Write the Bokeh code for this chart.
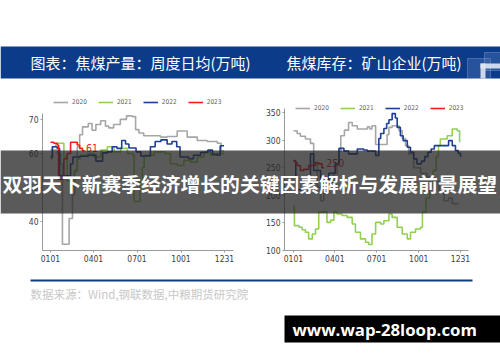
from bokeh.plotting import figure
from bokeh.models import (Range1d, FixedTicker, Legend, LegendItem, Label,
                          BoxAnnotation)
from bokeh.layouts import row, column
from bokeh.embed import file_html
from bokeh.resources import INLINE

# ---------------- data ----------------
x_ticks = [1, 91, 182, 274, 365]
x_tick_labels = ["0101", "0401", "0701", "1001", "1231"]
years = ["2020", "2021", "2022", "2023"]

prod_ticks = [40, 50, 60, 70]
inv_ticks = [100, 150, 200, 250, 300, 350]

# coking coal output, weekly daily average (10k t)
prod_2020_day = [1, 15, 22, 26, 40, 47, 52, 57, 62, 68, 80, 88, 96, 106, 116, 123, 133, 147, 160, 172, 179, 186, 196, 231, 245, 266, 287, 308, 329, 350, 358, 364]
prod_2020_val = [61, 60, 57, 33.5, 41, 48, 55, 62, 65.5, 67.8, 68.8, 66.8, 68.5, 69.6, 68, 67.5, 68.5, 70, 71, 70.8, 67, 66, 65.2, 64.8, 65, 66.6, 64.8, 63.8, 63.5, 63, 60.8, 60.8]
prod_2021_day = [1, 5, 12, 29, 36, 43, 50, 57, 64, 78, 92, 106, 120, 134, 148, 162, 174, 176, 188, 193, 197, 218, 240, 252, 266, 280, 294, 308, 322, 336, 350, 364]
prod_2021_val = [58.5, 62, 63, 59, 52, 50.5, 55, 58.5, 59.5, 60, 59, 61, 62, 60.5, 61.5, 60, 59.5, 46, 52, 56, 59.5, 60.5, 60, 57, 56.5, 58, 57.5, 59, 60.5, 59.5, 60, 60]
prod_2022_day = [1, 5, 15, 20, 43, 48, 62, 80, 96, 110, 120, 130, 140, 150, 158, 165, 180, 190, 210, 220, 232, 245, 255, 265, 272, 290, 300, 315, 330, 340, 350, 356, 364]
prod_2022_val = [59, 62, 61.5, 53.5, 57, 59, 59.2, 59.5, 57.8, 60.2, 60.5, 62, 61.5, 63.8, 62.8, 61.6, 60.5, 59.3, 62, 63.5, 64, 62.8, 63.5, 62, 59, 58.5, 59.5, 60.3, 61, 59.8, 59.5, 62.3, 62.3]
prod_2023_day = [1, 8, 15, 18, 29, 36, 43, 57, 62, 68, 71]
prod_2023_val = [63.3, 63, 62.5, 52.5, 58.5, 60, 63.3, 62.5, 61.5, 60.8, 61]

# coking coal inventory, mines (10k t)
inv_2020_day = [1, 9, 16, 27, 38, 45, 53, 60, 67, 78, 89, 96, 100, 104, 112, 121, 129, 140, 162, 167, 172, 180, 205, 209, 216, 231, 238, 245, 252, 263, 278, 292, 307, 318, 329, 339, 347, 361]
inv_2020_val = [317, 312, 307, 302, 294, 260, 215, 190, 205, 222, 240, 255, 280, 308, 318, 332, 326, 320, 324, 320, 326, 292, 310, 323, 326, 317, 303, 290, 275, 250, 240, 233, 225, 205, 190, 195, 185, 185]
inv_2021_day = [1, 3, 13, 20, 27, 34, 42, 49, 56, 67, 74, 82, 89, 96, 107, 118, 129, 136, 147, 158, 165, 172, 180, 191, 198, 209, 216, 227, 238, 249, 256, 267, 278, 282, 290, 298, 305, 312, 317, 321, 336, 347, 358, 363]
inv_2021_val = [180, 145, 142, 137.5, 133, 121, 130, 139, 169.5, 170, 151, 155, 169.5, 166, 163.4, 160, 148, 133, 121, 115, 111, 130, 151, 148, 154, 166, 160, 142, 130, 121, 133, 139, 142, 170, 195, 215, 245, 270, 290, 302, 308, 320, 317, 296]
inv_2022_day = [1, 6, 38, 45, 60, 78, 92, 100, 111, 121, 140, 154, 162, 180, 187, 191, 198, 204, 209, 216, 223, 227, 234, 240, 249, 256, 263, 270, 280, 287, 294, 301, 308, 321, 339, 347, 354, 360, 365]
inv_2022_val = [262, 210, 275, 245, 225, 240, 257, 285, 280, 275, 284, 282, 280, 272, 303, 312, 321, 330, 337, 348, 340, 323, 308, 299, 287, 278, 266, 257, 262, 270, 278, 284, 290, 290, 299, 290, 281, 276, 270]
inv_2023_day = [1, 5, 9, 16, 23, 34, 42, 49, 56, 63, 68]
inv_2023_val = [263, 259, 254, 245, 247, 254, 254, 259, 257, 250, 250]

title_left = "图表：焦煤产量：周度日均(万吨)"
title_right = "焦煤库存：矿山企业(万吨)"
banner_text = "双羽天下新赛季经济增长的关键因素解析与发展前景展望"
source_text = "数据来源：Wind,钢联数据,中粮期货研究院"
watermark_text = "www.wap-28loop.com"

# ---------------- styles ----------------
COLORS = ["#a6a6a6", "#92d050", "#1c3f94", "#ff1a1a"]
NAVY = "#0c3b8a"
CJK = "Noto Sans CJK SC"
NARROW = "DejaVu Sans Condensed, Liberation Sans, sans-serif"
W, H = 250, 362


def make_chart(x0, x1, y0, y1, ybound, ticks, borders, series, legend_pos, end_label):
    bl, br, bt, bb = borders
    p = figure(width=W, height=H, x_range=Range1d(x0, x1), y_range=Range1d(y0, y1),
               output_backend="svg", toolbar_location=None,
               min_border_left=bl, min_border_right=br, min_border_top=bt,
               min_border_bottom=bb)
    p.outline_line_color = None
    p.grid.visible = False
    p.background_fill_color = "white"
    p.border_fill_color = "white"
    for ax in (p.xaxis[0], p.yaxis[0]):
        ax.axis_line_color = "#9a9a9a"
        ax.major_tick_line_color = "#9a9a9a"
        ax.major_tick_in = 0
        ax.major_tick_out = 2
        ax.minor_tick_line_color = None
        ax.major_label_text_font = NARROW
        ax.major_label_text_font_size = "8.5px"
        ax.major_label_text_color = "#404040"
        ax.major_label_standoff = 2
    p.xaxis.ticker = FixedTicker(ticks=x_ticks)
    p.xaxis.major_label_overrides = {t: l for t, l in zip(x_ticks, x_tick_labels)}
    p.yaxis.ticker = FixedTicker(ticks=ticks)
    p.yaxis.bounds = (y0, ybound)

    items = []
    for (d, v), c, yr in zip(series, COLORS, years):
        r = p.step(d, v, mode="after", line_color=c, line_width=1.6)
        items.append(LegendItem(label=yr, renderers=[r]))
    legend = Legend(items=items, orientation="horizontal", location=legend_pos,
                    glyph_width=15, glyph_height=8, label_standoff=4, spacing=11,
                    padding=0, margin=0, border_line_alpha=0, background_fill_alpha=0,
                    label_text_font=NARROW, label_text_font_size="6.5px",
                    label_text_color="#606060", label_height=8, label_width=14)
    p.add_layout(legend)

    # end value label of latest year
    d23, v23 = series[3]
    txt, col, yoff = end_label
    p.add_layout(Label(x=d23[-1], y=v23[-1], text=txt, x_offset=2, y_offset=yoff,
                       text_baseline="middle", text_color=col, text_font=NARROW,
                       text_font_size="10.5px"))
    return p


# left: frame spans page y 88..250 (axis line drawn up to 71.67)
pl = make_chart(
    -15.7, 383.8, 31.67, 76.67, 71.67, prod_ticks, (42, 17, 88, 112),
    [(prod_2020_day, prod_2020_val), (prod_2021_day, prod_2021_val),
     (prod_2022_day, prod_2022_val), (prod_2023_day, prod_2023_val)],
    (11, 144), (str(round(prod_2023_val[-1])), "#ff1a1a", 2))

# right: frame spans page y 96..250 (axis line drawn up to 357.8)
pr = make_chart(
    -18.6, 382.4, 100, 379.0, 357.8, inv_ticks, (34, 32, 96, 112),
    [(inv_2020_day, inv_2020_val), (inv_2021_day, inv_2021_val),
     (inv_2022_day, inv_2022_val), (inv_2023_day, inv_2023_val)],
    (11, 138), (str(round(inv_2023_val[-1])), "#e02020", 5))

# ---------------- page decoration overlay (page pixel space) ----------------
ov = figure(width=500, height=362, x_range=Range1d(0, 500), y_range=Range1d(362, 0),
            output_backend="svg", toolbar_location=None,
            x_axis_type=None, y_axis_type=None,
            min_border=0, margin=(-362, 0, 0, 0))
ov.outline_line_color = None
ov.grid.visible = False
ov.background_fill_alpha = 0
ov.border_fill_alpha = 0


def box(l, r_, t, b, color, alpha=1.0, line=None):
    ov.add_layout(BoxAnnotation(left=l, right=r_, top=t, bottom=b,
                                fill_color=color, fill_alpha=alpha,
                                line_color=line, line_width=1))


def label(px, py, text, **kw):
    ov.add_layout(Label(x=px, y=py, text=text, text_baseline="middle", **kw))


# title bar
box(0, 500, 46, 78, NAVY)
label(30, 62, title_left, text_color="white", text_font=CJK, text_font_size="15px")
label(286, 62, title_right, text_color="white", text_font=CJK, text_font_size="15px")
# logo
box(467, 490, 58, 78, "#5d7fbd", 0.35, "#b9c9e6")
box(484, 500, 52, 70, "#5d7fbd", 0.35, "#b9c9e6")
box(480, 500, 63, 68, "#dfe7f4", 0.9)
box(480, 485, 63, 78, "#dfe7f4", 0.9)
# banner
box(0, 500, 150, 213, "#262626", 0.76)
label(2, 183, banner_text, text_color="white", text_font=CJK,
      text_font_style="bold", text_font_size="19.8px")
# footer
box(30, 472, 279, 281, NAVY)
label(30, 293, source_text, text_color="#c8c8c8", text_font=CJK, text_font_size="11.5px")
# watermark
box(284, 500, 315, 342, "black")
label(292, 329, watermark_text, text_color="white", text_font="Open Sans",
      text_font_style="bold", text_font_size="16.8px")

layout = column(row(pl, pr), ov)
open("out.html", "w").write(file_html(layout, INLINE))
